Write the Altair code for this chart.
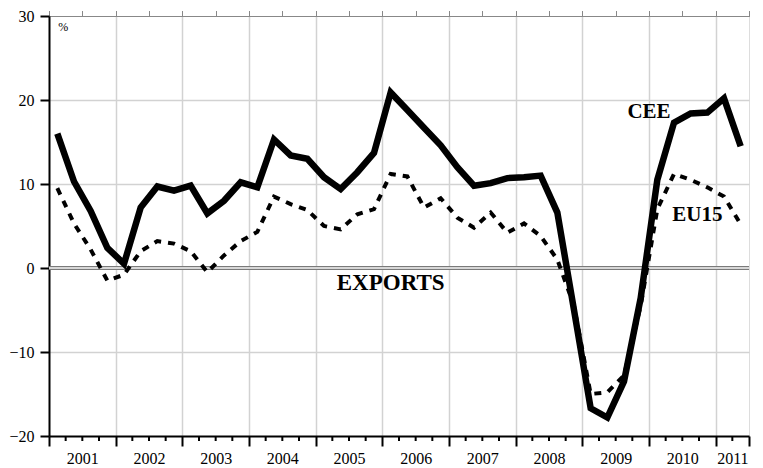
import altair as alt
import pandas as pd

# Quarterly export growth, % y/y, 2001Q1 .. 2011Q2
years = list(range(2001, 2012))
quarters = ["Q1", "Q2", "Q3", "Q4"]

cee = [16.0, 10.3, 6.8, 2.4,
       0.5, 7.2, 9.7, 9.2,
       9.8, 6.5, 8.0, 10.2,
       9.6, 15.3, 13.4, 13.0,
       10.8, 9.4, 11.4, 13.7,
       20.9, 18.8, 16.7, 14.6,
       12.0, 9.8, 10.1, 10.7,
       10.8, 11.0, 6.6, -5.0,
       -16.7, -17.8, -13.5, -3.6,
       10.5, 17.3, 18.4, 18.5,
       20.2, 14.5]

eu15 = [9.5, 5.3, 2.2, -1.5,
        -0.8, 2.0, 3.2, 2.9,
        2.0, -0.5, 1.5, 3.2,
        4.3, 8.5, 7.6, 6.9,
        5.0, 4.6, 6.4, 7.0,
        11.2, 10.9, 7.2, 8.3,
        6.0, 4.8, 6.6, 4.2,
        5.3, 3.8, 1.0, -4.5,
        -15.0, -14.8, -12.8, -4.5,
        7.0, 11.2, 10.5, 9.6,
        8.5, 5.2]

labels = [f"{y}{q}" for y in years for q in quarters][:len(cee)]
df = pd.DataFrame({
    "period": labels,
    "t": [i + 0.5 for i in range(len(cee))],
    "CEE": cee,
    "EU15": eu15,
})

FONT = "Liberation Serif"
n_q = len(cee)
W, H = 700, 420

x_scale = alt.Scale(domain=[0, n_q], nice=False, zero=False)
y_scale = alt.Scale(domain=[-20, 30], nice=False)

major_vals = list(range(0, n_q, 4)) + [n_q]
minor_vals = [v for v in range(0, n_q + 1) if v not in major_vals]
label_vals = [v for v in range(2, n_q, 4)] + [n_q - 1]

x_major = alt.Axis(
    orient="bottom", values=major_vals, title=None, labels=False,
    grid=True, gridColor="#d2d2d2", gridWidth=1.5,
    gridOpacity={"condition": {"test": f"datum.value > 0 && datum.value < {n_q}", "value": 1}, "value": 0},
    tickColor="black", tickWidth=2, tickSize=10,
    domainColor="black", domainWidth=2,
)
x_labels = alt.Axis(
    orient="bottom", values=label_vals, title=None, grid=False, domain=False, ticks=False,
    labelExpr=f"datum.value == {n_q - 1} ? '2011' : toString(2001 + floor(datum.value / 4))",
    labelFont=FONT, labelFontSize=16, labelColor="black", labelPadding=14,
    labelOverlap=False, labelFlush=False,
)

y_axis = alt.Axis(
    values=[-20, -10, 0, 10, 20, 30],
    title=None,
    grid=True,
    gridColor="#d2d2d2",
    gridWidth=1.5,
    gridOpacity={"condition": {"test": "datum.value == 10 || datum.value == 20 || datum.value == -10", "value": 1}, "value": 0},
    tickColor="black",
    tickWidth=2,
    tickSize=9,
    domainColor="black",
    domainWidth=2,
    labelFont=FONT,
    labelFontSize=16,
    labelColor="black",
    labelPadding=6,
)

base = alt.Chart(df)

axes_major = base.mark_line(opacity=0).encode(
    x=alt.X("t:Q", scale=x_scale, axis=x_major),
    y=alt.Y("CEE:Q", scale=y_scale, axis=y_axis),
)
axes_labels = base.mark_line(opacity=0).encode(
    x=alt.X("t:Q", scale=x_scale, axis=x_labels),
    y=alt.Y("CEE:Q", scale=y_scale),
)

# minor (quarter) ticks under the bottom axis
minor_df = pd.DataFrame({"q": minor_vals})
minor_ticks = alt.Chart(minor_df).mark_rule(color="black", strokeWidth=2).encode(
    x=alt.X("q:Q", scale=x_scale),
    y=alt.value(H),
    y2=alt.value(H + 5),
)

zero_outer = base.mark_rule(color="#7a7a7a", strokeWidth=4).encode(y=alt.datum(0))
zero_inner = base.mark_rule(color="#d8d8d8", strokeWidth=1.2).encode(y=alt.datum(0))

eu_line = base.mark_line(color="black", strokeWidth=4, strokeDash=[7, 7], strokeCap="butt").encode(
    x=alt.X("t:Q", scale=x_scale),
    y=alt.Y("EU15:Q", scale=y_scale),
)
cee_line = base.mark_line(color="black", strokeWidth=6.5, strokeJoin="miter", strokeCap="butt").encode(
    x=alt.X("t:Q", scale=x_scale),
    y=alt.Y("CEE:Q", scale=y_scale),
)

one = pd.DataFrame({"k": [0]})

def label(txt, xv, yv, size=21, bold=True):
    return alt.Chart(one).mark_text(
        text=txt, font=FONT, fontSize=size, fontWeight="bold" if bold else "normal",
        color="black", align="center", baseline="middle",
    ).encode(x=alt.datum(xv), y=alt.datum(yv))

t_cee = label("CEE", 36.0, 18.6)
t_eu = label("EU15", 38.9, 6.3)
t_exp = label("EXPORTS", 20.5, -1.8, size=23)
t_pct = label("%", 0.85, 28.7, size=12, bold=False)

chart = alt.layer(
    axes_major, axes_labels, minor_ticks, zero_outer, zero_inner, eu_line, cee_line,
    t_cee, t_eu, t_exp, t_pct
).resolve_axis(x="independent").properties(
    width=W,
    height=H,
    autosize=alt.AutoSizeParams(type="none"),
    padding={"left": 41, "top": 8, "right": 6, "bottom": 36},
).configure_view(stroke=None).configure_axis(labelFont=FONT).configure_text(font=FONT).configure(background="white")

chart.save("out.html", embed_options={"renderer": "svg", "actions": False})
